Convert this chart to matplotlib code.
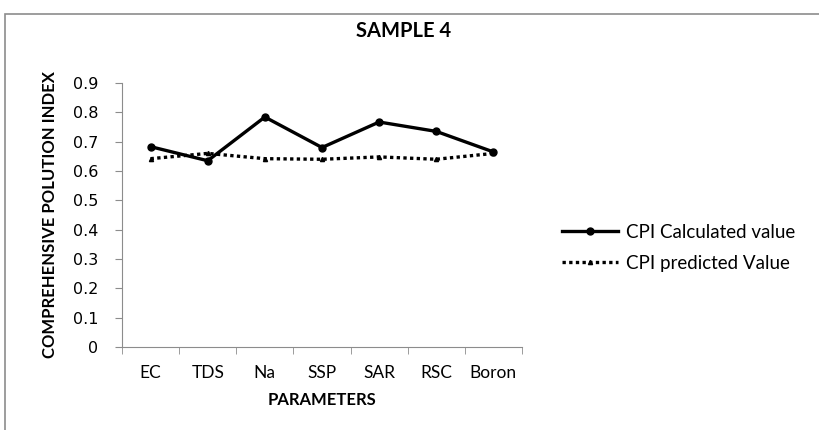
import matplotlib
matplotlib.use("Agg")
import matplotlib.pyplot as plt
from matplotlib.patches import Rectangle
import numpy as np

# data
params = ["EC", "TDS", "Na", "SSP", "SAR", "RSC", "Boron"]
cpi_calculated = [0.683, 0.635, 0.784, 0.680, 0.767, 0.735, 0.665]
cpi_predicted = [0.642, 0.660, 0.642, 0.640, 0.648, 0.640, 0.660]
y_ticks = [0, 0.1, 0.2, 0.3, 0.4, 0.5, 0.6, 0.7, 0.8, 0.9]

plt.rcParams["font.family"] = ["Lato", "DejaVu Sans"]

fig = plt.figure(figsize=(8.2, 4.3), dpi=100)
# outer chart border, cropped on right and bottom like the screenshot
fig.patches.append(Rectangle((5 / 820, -0.1), 1.2, 1 - 14 / 430 + 0.1,
                             transform=fig.transFigure, fill=False,
                             edgecolor="#8c8c8c", linewidth=1.2))

ax = fig.add_axes([122 / 820, 1 - 347 / 430, 400 / 820, 264 / 430])
x = np.arange(len(params))
ax.plot(x, cpi_calculated, color="black", linewidth=2.4, marker="o",
        markersize=5, label="CPI Calculated value")
ax.plot(x, cpi_predicted, color="black", linewidth=2.4, linestyle=(0, (1, 1)),
        marker="^", markersize=3, label="CPI predicted Value")

ax.set_xlim(-0.5, len(params) - 0.5)
ax.set_ylim(0, 0.9)
ax.set_yticks(y_ticks)
ax.set_yticklabels(["0" if v == 0 else f"{v:.1f}" for v in y_ticks],
                   fontsize=11.5, family="DejaVu Sans")
ax.set_xticks(x)
ax.set_xticklabels(params, fontsize=12.5)
ax.set_xticks(np.arange(len(params) + 1) - 0.5, minor=True)
ax.tick_params(axis="x", which="major", length=0, pad=13)
ax.tick_params(axis="x", which="minor", length=5, color="#8c8c8c")
ax.tick_params(axis="y", length=5, color="#8c8c8c", pad=12)

for side in ["top", "right"]:
    ax.spines[side].set_visible(False)
for side in ["left", "bottom"]:
    ax.spines[side].set_color("#8c8c8c")

ax.set_xlabel("PARAMETERS", fontsize=12, fontweight="bold", labelpad=8)
ax.set_ylabel("COMPREHENSIVE POLUTION INDEX", fontsize=12, fontweight="bold")
ax.yaxis.set_label_coords(-64 / 400, 0.5)
fig.text(404 / 820, 1 - 31 / 430, "SAMPLE 4", ha="center", va="center",
         fontsize=14.5, fontweight="bold")

fig.legend(loc="center left", bbox_to_anchor=(545 / 820, 1 - 248 / 430),
           frameon=False, fontsize=13.5, handlelength=3.0, labelspacing=0.75,
           handletextpad=0.4)

fig.savefig("out.png", dpi=100)
